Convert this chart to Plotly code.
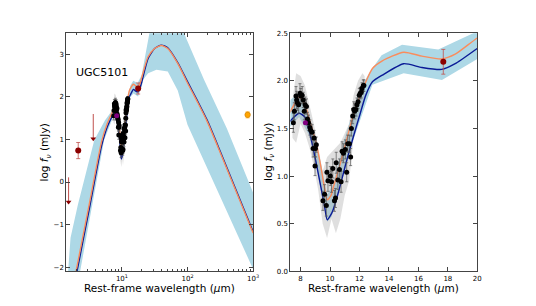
import plotly.graph_objects as go

# ---------------- data ----------------
# best-fit model curves (rest wavelength in micron, log f_nu in mJy)
model_wl = [1.3, 2.0, 3.2, 4.9, 6.0, 7.31, 7.9, 8.29, 8.63, 9.07, 9.41, 9.63, 9.81, 10.08, 10.2,
            10.64, 11.09, 11.54, 11.98, 12.43, 12.88, 13.55, 15.0, 16.24, 17.58, 18.5, 20.0,
            25.0, 31.6, 40.0, 50.0, 71.0, 100.0, 142.0, 200.0, 316.0, 1000.0]
model_orange = [-3.6, -2.1, -0.5, 0.95, 1.38, 1.68, 1.83, 1.75, 1.58, 1.34, 1.07, 0.87, 0.75, 0.80, 0.87,
                1.10, 1.36, 1.62, 1.82, 1.99, 2.13, 2.21, 2.30, 2.26, 2.23, 2.28, 2.45,
                2.94, 3.14, 3.21, 3.14, 2.79, 2.33, 1.88, 1.42, 0.69, -1.20]
model_blue = [-3.75, -2.22, -0.62, 0.85, 1.30, 1.58, 1.66, 1.62, 1.45, 1.13, 0.86, 0.68, 0.54, 0.60, 0.64,
              0.87, 1.14, 1.39, 1.62, 1.85, 1.99, 2.06, 2.18, 2.14, 2.12, 2.18, 2.34,
              2.90, 3.14, 3.22, 3.16, 2.81, 2.36, 1.91, 1.45, 0.72, -1.17]

# model uncertainty band
band_up_wl = [1.3, 1.54, 1.65, 2.13, 2.85, 3.8, 5.5, 7.08, 7.31, 7.9, 8.6, 9.4, 9.8, 10.2, 11.0, 12.0,
              12.65, 13.5, 14.89, 17.35, 20.0, 26.7, 40.0, 85.0, 178.0, 398.0, 1000.0]
band_up = [-3.5, -2.07, -1.31, -0.54, 0.22, 0.99, 1.45, 1.68, 1.80, 1.88, 1.65, 1.12, 0.80, 0.92, 1.40, 1.90,
           2.08, 2.27, 2.38, 2.33, 2.52, 3.56, 3.9, 3.56, 2.41, 1.26, -0.25]
band_lo_wl = [1.3, 2.33, 5.36, 7.31, 7.9, 8.6, 9.2, 9.5, 9.81, 10.1, 10.6, 11.1, 11.54, 12.0, 12.88,
              15.0, 17.6, 20.0, 21.2, 25.1, 33.6, 50.0, 71.0, 100.0, 1000.0]
band_lo = [-5.0, -2.07, 0.99, 1.52, 1.62, 1.42, 1.00, 0.74, 0.52, 0.57, 0.83, 1.10, 1.36, 1.58, 1.96,
           2.08, 2.01, 2.23, 2.41, 2.56, 2.64, 2.60, 2.15, 1.35, -2.05]

# IRS spectrum points
spec_wl = [7.51, 7.58, 7.69, 7.73, 7.78, 7.87, 7.96, 8.02, 8.11, 8.18, 8.25, 8.31, 8.40, 8.47, 8.54,
           8.63, 8.69, 8.78, 8.85, 8.92, 9.01, 9.07, 8.98, 9.52, 9.63, 9.75, 9.79, 9.86, 10.02, 10.10,
           10.19, 10.30, 10.37, 10.42, 10.53, 10.64, 10.75, 10.82, 10.91, 11.04, 11.13, 11.20, 11.31,
           11.40, 11.45, 11.54, 11.61, 11.67, 11.76, 11.83, 11.90, 11.99, 12.05, 12.12, 12.17, 12.26, 12.30]
spec_val = [1.56, 1.68, 1.84, 1.80, 1.77, 1.75, 1.87, 1.84, 1.85, 1.80, 1.68, 1.75, 1.73, 1.60, 1.56,
            1.51, 1.48, 1.46, 1.29, 1.40, 1.29, 1.33, 1.105, 0.74, 0.81, 0.69, 1.04, 0.95, 1.00, 0.94,
            1.08, 0.74, 0.77, 1.14, 0.96, 1.07, 0.94, 1.26, 1.24, 1.28, 1.04, 1.34, 1.34,
            1.20, 1.50, 1.63, 1.70, 1.68, 1.70, 1.75, 1.78, 1.85, 1.87, 1.88, 1.92, 1.95, 1.95]
spec_err = [0.10, 0.09, 0.10, 0.09, 0.08, 0.09, 0.10, 0.08, 0.09, 0.08, 0.09, 0.08, 0.08, 0.07, 0.08,
            0.08, 0.07, 0.08, 0.09, 0.08, 0.09, 0.08, 0.10, 0.10, 0.10, 0.11, 0.10, 0.11, 0.10, 0.11,
            0.10, 0.11, 0.10, 0.11, 0.10, 0.11, 0.11, 0.10, 0.10, 0.10, 0.10, 0.09, 0.09,
            0.09, 0.08, 0.08, 0.08, 0.08, 0.07, 0.07, 0.07, 0.07, 0.06, 0.06, 0.06, 0.06, 0.06]

# spectrum uncertainty (grey) band
grey_wl = [7.45, 7.7, 8.0, 8.3, 8.6, 8.9, 9.2, 9.5, 9.8, 10.1, 10.4, 10.7, 11.0, 11.3, 11.6, 11.9, 12.2, 12.35]
grey_up = [1.80, 2.08, 2.05, 1.95, 1.75, 1.55, 1.30, 1.05, 1.20, 1.25, 1.30, 1.35, 1.45, 1.55, 1.85, 2.00, 2.08, 2.05]
grey_lo = [1.40, 1.35, 1.55, 1.45, 1.30, 1.10, 0.85, 0.50, 0.35, 0.55, 0.40, 0.55, 0.80, 0.95, 1.40, 1.60, 1.75, 1.85]

# photometry
phot_wl = [2.16, 17.69]
phot_val = [0.74, 2.20]
phot_err = [0.19, 0.13]
ulim_wl = [1.54, 3.66]
ulim_val = [0.11, 1.60]
submm_wl = [824.0]
submm_val = [1.58]
submm_err = [0.07]
pah_wl = [8.33]
pah_val = [1.56]

ARROW_LEN = 0.58

# ---------------- figure ----------------
ORANGE = "#fa8c5c"
BLUE = "#0a1a96"
BAND = "#add8e6"
DARKRED = "#8b0000"
AX = "#444444"

fig = go.Figure()


def add_panel(xa, ya, right):
    xref = dict(xaxis=xa, yaxis=ya)
    fig.add_trace(go.Scatter(x=band_up_wl + band_lo_wl[::-1], y=band_up + band_lo[::-1],
                             fill="toself", fillcolor=BAND, line=dict(width=0),
                             mode="lines", hoverinfo="skip", showlegend=False, **xref))
    fig.add_trace(go.Scatter(x=grey_wl + grey_wl[::-1], y=grey_up + grey_lo[::-1],
                             fill="toself", fillcolor="rgba(175,175,175,0.4)", line=dict(width=0),
                             mode="lines", hoverinfo="skip", showlegend=False, **xref))
    fig.add_trace(go.Scatter(x=model_wl, y=model_blue, mode="lines",
                             line=dict(color=BLUE, width=1.4, shape="spline", smoothing=0.6),
                             showlegend=False, **xref))
    fig.add_trace(go.Scatter(x=model_wl, y=model_orange, mode="lines",
                             line=dict(color=ORANGE, width=1.4, shape="spline", smoothing=0.6),
                             showlegend=False, **xref))
    fig.add_trace(go.Scatter(x=spec_wl, y=spec_val, mode="markers",
                             marker=dict(color="black", size=5, line=dict(width=0)),
                             error_y=dict(type="data", array=spec_err, color="#555555", thickness=0.7, width=1.5),
                             showlegend=False, **xref))
    fig.add_trace(go.Scatter(x=pah_wl, y=pah_val, mode="markers",
                             marker=dict(color="#800080", size=5, line=dict(width=0)),
                             showlegend=False, **xref))
    fig.add_trace(go.Scatter(x=phot_wl, y=phot_val, mode="markers",
                             marker=dict(color=DARKRED, size=6, line=dict(width=0)),
                             error_y=dict(type="data", array=phot_err, color="#c0504d", thickness=0.8, width=2),
                             showlegend=False, **xref))
    if not right:
        for w, v in zip(ulim_wl, ulim_val):
            fig.add_trace(go.Scatter(x=[w, w], y=[v, v - ARROW_LEN], mode="lines",
                                     line=dict(color="#c0504d", width=1), showlegend=False, **xref))
            fig.add_trace(go.Scatter(x=[w], y=[v - ARROW_LEN], mode="markers",
                                     marker=dict(symbol="triangle-down", color=DARKRED, size=5),
                                     showlegend=False, **xref))
        fig.add_trace(go.Scatter(x=submm_wl, y=submm_val, mode="markers",
                                 marker=dict(color="#ffa500", size=5.5, line=dict(color="#cc7a00", width=0.6)),
                                 error_y=dict(type="data", array=submm_err, color="#ffa500", thickness=0.8, width=2),
                                 showlegend=False, **xref))


add_panel("x", "y", False)
add_panel("x2", "y2", True)

axis_common = dict(showline=True, linecolor=AX, linewidth=1, mirror="allticks", ticks="inside",
                   tickcolor=AX, ticklen=4, showgrid=False, zeroline=False,
                   tickfont=dict(family="DejaVu Sans", size=7, color="black"))

fig.update_layout(
    width=536, height=306, margin=dict(l=0, r=0, t=0, b=0),
    paper_bgcolor="white", plot_bgcolor="white", showlegend=False,
    xaxis=dict(domain=[67 / 536, 256 / 536], type="log", range=[0.152, 3.0],
               tickvals=[10, 100, 1000], ticktext=["10<sup>1</sup>", "10<sup>2</sup>", "10<sup>3</sup>"],
               minor=dict(ticks="inside", ticklen=2, tickcolor=AX, dtick="D1", showgrid=False),
               anchor="y", **axis_common),
    yaxis=dict(domain=[1 - 274.5 / 306, 1 - 30 / 306], range=[-2.1, 3.5],
               tickvals=[-2, -1, 0, 1, 2, 3], ticktext=["\u22122", "\u22121", "0", "1", "2", "3"],
               anchor="x", **axis_common),
    xaxis2=dict(domain=[293.7 / 536, 482.7 / 536], range=[7.31, 20],
                tickvals=[8, 10, 12, 14, 16, 18, 20], anchor="y2", **axis_common),
    yaxis2=dict(domain=[1 - 274.5 / 306, 1 - 30 / 306], range=[0, 2.5],
                tickvals=[0, 0.5, 1.0, 1.5, 2.0, 2.5], tickformat=".1f", anchor="x2", **axis_common),
)

title_font = dict(family="DejaVu Sans", size=10.5, color="black")
common_ann = dict(xref="paper", yref="paper", showarrow=False, xanchor="center", yanchor="middle")
ann = [
    dict(text="UGC5101", x=103 / 536, y=1 - 70 / 306,
         font=dict(family="DejaVu Sans", size=11, color="black"), **common_ann),
    dict(text="Rest-frame wavelength (<i>\u03bc</i>m)", x=161.5 / 536, y=1 - 292 / 306,
         font=title_font, **common_ann),
    dict(text="Rest-frame wavelength (<i>\u03bc</i>m)", x=388 / 536, y=1 - 292 / 306,
         font=title_font, **common_ann),
    dict(text="log <i>f</i><sub><i>\u03bd</i></sub> (mJy)", x=46 / 536, y=1 - 152 / 306,
         textangle=-90, font=title_font, **common_ann),
    dict(text="log <i>f</i><sub><i>\u03bd</i></sub> (mJy)", x=272 / 536, y=1 - 152 / 306,
         textangle=-90, font=title_font, **common_ann),
]
fig.update_layout(annotations=ann)

fig.write_html("out.html", config={"displayModeBar": False},
               post_script="document.body.style.margin='0';document.body.style.padding='0';")
